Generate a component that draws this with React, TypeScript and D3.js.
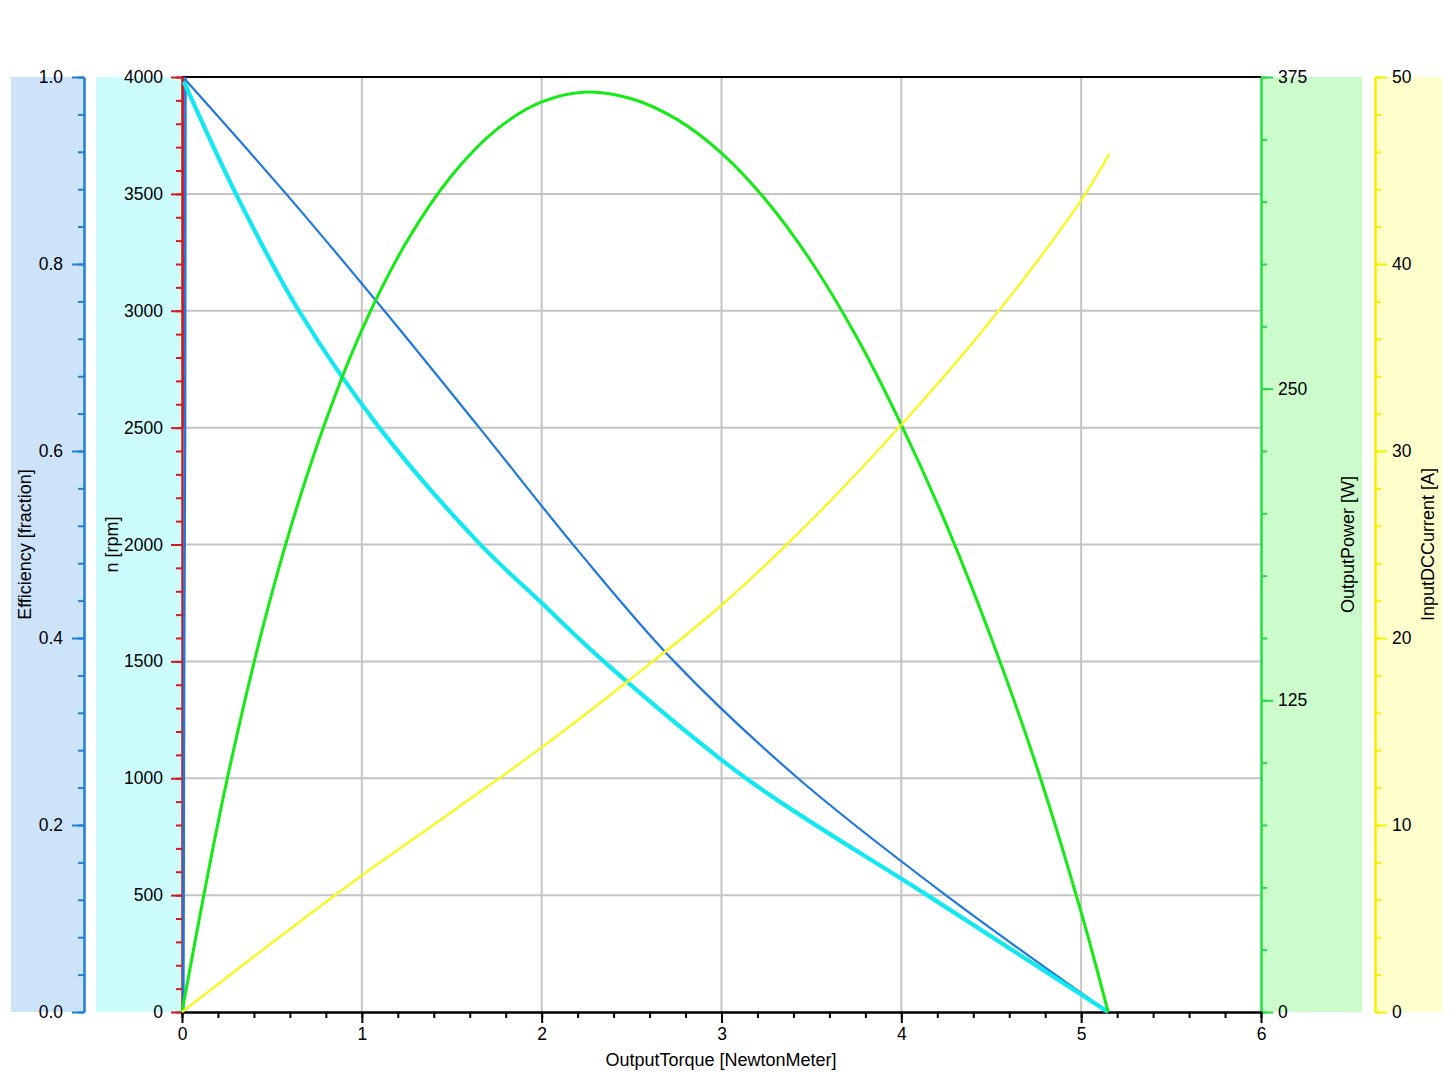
import React, { useEffect, useRef } from "react";
import * as d3 from "d3";

// ---------- data ----------
const torqueTicks = [0, 1, 2, 3, 4, 5, 6];
const efficiencyTicks = [0, 0.2, 0.4, 0.6, 0.8, 1.0];
const speedTicks = [0, 500, 1000, 1500, 2000, 2500, 3000, 3500, 4000];
const powerTicks = [0, 125, 250, 375];
const currentTicks = [0, 10, 20, 30, 40, 50];

// thin blue speed line (rpm)
const speedLineTorque = [0.02, 0.579, 1.125, 1.653, 2.2, 2.736, 3.425, 4.247, 5.15];
const speedLineRpm = [3987, 3500, 3000, 2500, 1976, 1500, 1000, 500, 0];

// thick cyan speed curve (rpm)
const speedCurveTorque = [0.01, 0.3, 0.65, 1.097, 1.653, 1.986, 2.345, 3.136, 4.144, 5.15];
const speedCurveRpm = [3980, 3500, 3000, 2500, 2005, 1760, 1500, 1000, 500, 0];

// output power (W)
const powerTorque = [0, 0.25, 0.5, 0.75, 1.0, 1.25, 1.5, 1.75, 2.0, 2.25, 2.5, 2.75, 3.0, 3.25, 3.5, 3.75, 4.0, 4.25, 4.5, 4.75, 5.0, 5.15];
const powerW = [0, 93, 168, 227, 273.5, 309, 335.5, 354, 365, 369, 366.3, 358.1, 344.5, 325.4, 300.9, 270.9, 235.5, 195.5, 150, 99, 40, 0];

// input DC current (A)
const currentTorque = [0, 0.5, 1.0, 1.5, 2.0, 2.5, 3.0, 3.5, 4.0, 4.5, 5.0, 5.157];
const currentA = [0, 3.7, 7.3, 10.7, 14.15, 17.85, 21.75, 26.3, 31.4, 37.0, 43.4, 45.9];

// near-zero-torque traces on the rpm axis
const nearZeroBlueTorque = [0.019, 0.017, 0.012, 0.009, 0.007];
const nearZeroBlueRpm = [4000, 2500, 1500, 500, 0];
const nearZeroRedTorque = [0.005, 0.005];
const nearZeroRedRpm = [4000, 2500];

// ---------- layout ----------
const W = 1454;
const H = 1080;
const left = 182;
const right = 1261;
const top = 77;
const bottom = 1012;
const font = "'Liberation Sans', Arial, Helvetica, sans-serif";

const xScale = d3.scaleLinear().domain([0, 6]).range([left, right]);
const effScale = d3.scaleLinear().domain([0, 1]).range([bottom, top]);
const nScale = d3.scaleLinear().domain([0, 4000]).range([bottom, top]);
const pScale = d3.scaleLinear().domain([0, 375]).range([bottom, top]);
const iScale = d3.scaleLinear().domain([0, 50]).range([bottom, top]);

const effAxisX = 84;
const pAxisX = 1261;
const iAxisX = 1375;

function makePath(xs: number[], ys: number[], yScale: any, curve: any) {
  const pts: [number, number][] = xs.map((x, i) => [x, ys[i]]);
  return d3
    .line<[number, number]>()
    .x((d) => xScale(d[0]))
    .y((d) => yScale(d[1]))
    .curve(curve)(pts) as string;
}

function styleAxis(g: any, color: string) {
  g.selectAll(".domain").attr("stroke", color).attr("stroke-width", 2);
  g.selectAll(".tick line").attr("stroke", color).attr("stroke-width", 2);
  g.selectAll(".tick text")
    .attr("fill", "#000")
    .style("font-family", font)
    .style("font-size", "17.5px");
}

export default function App() {
  const axesRef = useRef<SVGGElement>(null);

  useEffect(() => {
    const root = d3.select(axesRef.current);
    root.selectAll("*").remove();

    // efficiency axis (left outer)
    const effMinor = root.append("g").attr("transform", `translate(${effAxisX},0)`);
    effMinor.call(
      d3.axisLeft(effScale).tickValues(d3.range(0, 1.0001, 0.04)).tickSize(6).tickSizeOuter(0).tickFormat(() => "")
    );
    styleAxis(effMinor, "#1f7fd8");
    const effMajor = root.append("g").attr("transform", `translate(${effAxisX},0)`);
    effMajor.call(
      d3.axisLeft(effScale).tickValues(efficiencyTicks).tickSize(12).tickSizeOuter(0).tickPadding(9).tickFormat(d3.format(".1f"))
    );
    styleAxis(effMajor, "#1f7fd8");

    // rpm axis
    const nMinor = root.append("g").attr("transform", `translate(${left},0)`);
    nMinor.call(
      d3.axisLeft(nScale).tickValues(d3.range(0, 4001, 100)).tickSize(6).tickSizeOuter(0).tickFormat(() => "")
    );
    styleAxis(nMinor, "#d21c1c");
    const nMajor = root.append("g").attr("transform", `translate(${left},0)`);
    nMajor.call(
      d3.axisLeft(nScale).tickValues(speedTicks).tickSize(11).tickSizeOuter(0).tickPadding(8).tickFormat(d3.format("d"))
    );
    styleAxis(nMajor, "#d21c1c");

    // power axis
    const pMinor = root.append("g").attr("transform", `translate(${pAxisX},0)`);
    pMinor.call(
      d3.axisRight(pScale).tickValues(d3.range(0, 376, 25)).tickSize(6).tickSizeOuter(0).tickFormat(() => "")
    );
    styleAxis(pMinor, "#22dd44");
    const pMajor = root.append("g").attr("transform", `translate(${pAxisX},0)`);
    pMajor.call(
      d3.axisRight(pScale).tickValues(powerTicks).tickSize(12).tickSizeOuter(0).tickPadding(5).tickFormat(d3.format("d"))
    );
    styleAxis(pMajor, "#22dd44");

    // current axis
    const iMinor = root.append("g").attr("transform", `translate(${iAxisX},0)`);
    iMinor.call(
      d3.axisRight(iScale).tickValues(d3.range(0, 50.001, 2)).tickSize(6).tickSizeOuter(0).tickFormat(() => "")
    );
    styleAxis(iMinor, "#f2f200");
    const iMajor = root.append("g").attr("transform", `translate(${iAxisX},0)`);
    iMajor.call(
      d3.axisRight(iScale).tickValues(currentTicks).tickSize(12).tickSizeOuter(0).tickPadding(5).tickFormat(d3.format("d"))
    );
    styleAxis(iMajor, "#f2f200");

    // torque axis
    const xMinor = root.append("g").attr("transform", `translate(0,${bottom})`);
    xMinor.call(
      d3.axisBottom(xScale).tickValues(d3.range(0, 6.0001, 0.2)).tickSize(6).tickSizeOuter(0).tickFormat(() => "")
    );
    styleAxis(xMinor, "#000");
    const xMajor = root.append("g").attr("transform", `translate(0,${bottom})`);
    xMajor.call(
      d3.axisBottom(xScale).tickValues(torqueTicks).tickSize(11).tickSizeOuter(0).tickPadding(5).tickFormat(d3.format("d"))
    );
    styleAxis(xMajor, "#000");
  }, []);

  const gridX = torqueTicks.filter((t) => t > 0 && t < 6);
  const gridY = speedTicks.filter((t) => t > 0 && t < 4000);
  const midY = (top + bottom) / 2;

  return (
    <svg
      width={W}
      height={H}
      style={{ position: "absolute", left: 0, top: 0, display: "block", background: "#fff" }}
    >
      {/* axis bands */}
      <rect x={11} y={top} width={effAxisX - 11} height={bottom - top} fill="#cce3f9" />
      <rect x={96} y={top} width={left - 96} height={bottom - top} fill="#ccfcfc" />
      <rect x={pAxisX} y={top} width={1362 - pAxisX} height={bottom - top} fill="#ccfccc" />
      <rect x={iAxisX} y={top} width={1442 - iAxisX} height={bottom - top} fill="#ffffcc" />

      {/* grid */}
      {gridX.map((t) => (
        <line key={"gx" + t} x1={xScale(t)} x2={xScale(t)} y1={top} y2={bottom} stroke="#c4c4c4" strokeWidth={2} />
      ))}
      {gridY.map((t) => (
        <line key={"gy" + t} x1={left} x2={right} y1={nScale(t)} y2={nScale(t)} stroke="#c4c4c4" strokeWidth={2} />
      ))}
      <line x1={left} x2={right} y1={top} y2={top} stroke="#000" strokeWidth={2} />

      <g ref={axesRef} />

      {/* curves */}
      <path d={makePath(nearZeroBlueTorque, nearZeroBlueRpm, nScale, d3.curveLinear)} fill="none" stroke="#1e78e0" strokeWidth={2.6} />
      <path d={makePath(nearZeroRedTorque, nearZeroRedRpm, nScale, d3.curveLinear)} fill="none" stroke="#d21c1c" strokeWidth={2} />
      <path d={makePath(speedLineTorque, speedLineRpm, nScale, d3.curveCatmullRom)} fill="none" stroke="#1e78e0" strokeWidth={2.2} />
      <path d={makePath(speedCurveTorque, speedCurveRpm, nScale, d3.curveCatmullRom)} fill="none" stroke="#12e8f2" strokeWidth={4.2} />
      <path d={makePath(powerTorque, powerW, pScale, d3.curveCatmullRom)} fill="none" stroke="#14ea14" strokeWidth={3} />
      <path d={makePath(currentTorque, currentA, iScale, d3.curveCatmullRom)} fill="none" stroke="#f8f820" strokeWidth={2.4} />

      {/* titles */}
      <g style={{ fontFamily: font, fontSize: "18px" }} fill="#000">
        <text x={721} y={1066} textAnchor="middle">OutputTorque [NewtonMeter]</text>
        <text transform={`translate(31,${midY}) rotate(-90)`} textAnchor="middle">Efficiency [fraction]</text>
        <text transform={`translate(118,${midY}) rotate(-90)`} textAnchor="middle">n [rpm]</text>
        <text transform={`translate(1354,${midY}) rotate(-90)`} textAnchor="middle">OutputPower [W]</text>
        <text transform={`translate(1434,${midY}) rotate(-90)`} textAnchor="middle">InputDCCurrent [A]</text>
      </g>
    </svg>
  );
}
